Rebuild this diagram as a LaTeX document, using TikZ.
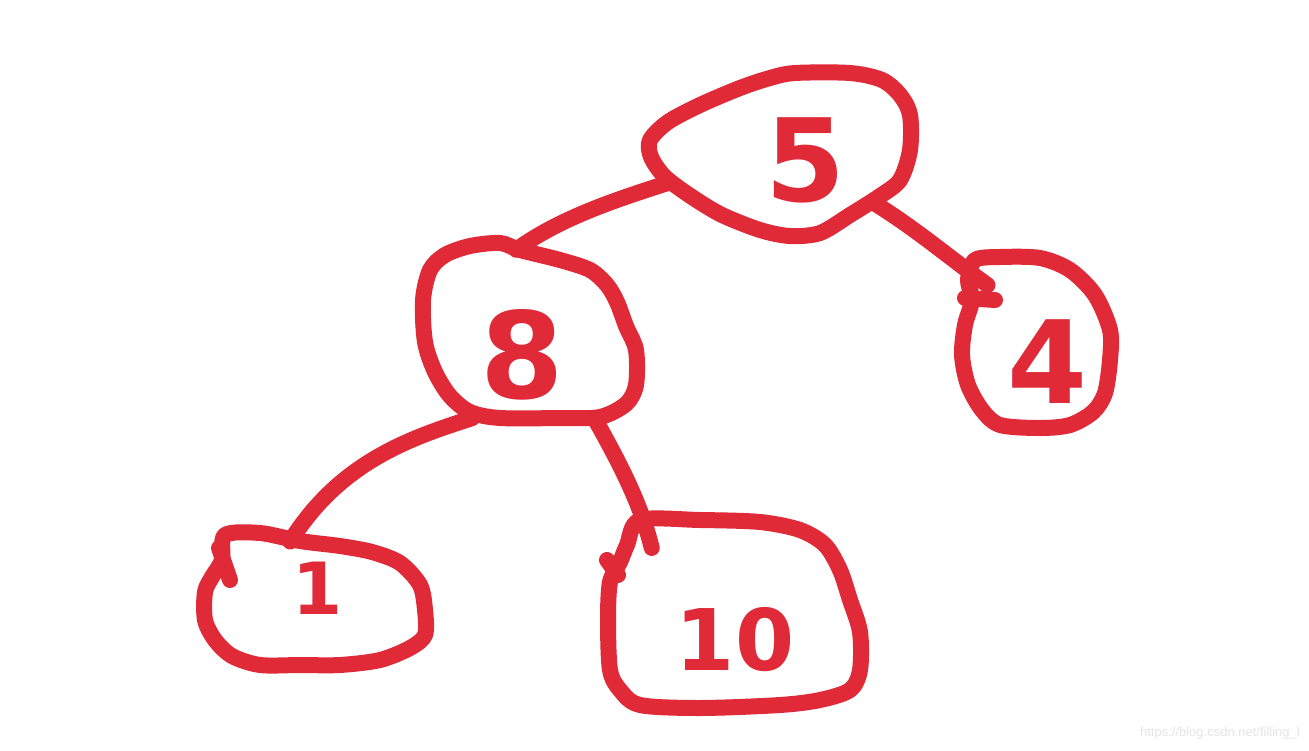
\documentclass[tikz,border=0pt]{standalone}
\usepackage{fontspec}
\usetikzlibrary{shapes.geometric}
\newfontfamily\handfont{DejaVu Sans Bold}
\newfontfamily\markfont{Liberation Sans}
\definecolor{pen}{HTML}{E02A38}
\tikzset{
  blob/.style={draw=pen, line width=16pt, line join=round, line cap=round},
  edge/.style={draw=pen, line width=16pt, line cap=round},
  holder/.style={ellipse, draw=none, inner sep=0pt},
  boxholder/.style={rectangle, draw=none, inner sep=0pt},
  digit/.style={text=pen, inner sep=0pt, font=\handfont},
}
\begin{document}
\begin{tikzpicture}[x=1pt,y=-1pt]
\useasboundingbox (0,0) rectangle (1309,750);
\fill[white] (0,0) rectangle (1309,750);
% node holders (named) for connectors
\node[holder, minimum width=240pt, minimum height=150pt] (b5) at (780,155) {};
\node[boxholder, minimum width=202pt, minimum height=168pt] (b8) at (531,334) {};
\node[holder, minimum width=140pt, minimum height=160pt] (b4) at (1037,342) {};
\node[holder, minimum width=210pt, minimum height=120pt] (b1) at (315,600) {};
\node[holder, minimum width=240pt, minimum height=180pt] (b10) at (735,613) {};
% blob outlines
\draw[blob] plot[smooth cycle, tension=0.5] coordinates {(650,140) (668,122) (700,105) (740,88) (770,78) (795,73) (850,73) (882,80) (900,95) (910,115) (910,150) (900,180) (880,196) (850,215) (820,233) (790,236) (760,230) (722,215) (692,197) (665,177) (651,157)};
\draw[blob] plot[smooth cycle, tension=0.5] coordinates {(470,246) (500,243) (520,250) (560,260) (590,270) (607,285) (617,302) (626,326) (636,350) (636,385) (626,404) (600,417) (560,418) (500,418) (470,412) (450,396) (435,372) (425,342) (423,300) (430,270) (445,255)};
\draw[blob] plot[smooth cycle, tension=0.5] coordinates {(975,260) (1000,257) (1040,258) (1070,270) (1095,295) (1110,330) (1110,360) (1105,393) (1093,412) (1070,425) (1040,428) (1000,425) (982,410) (968,385) (962,355) (965,325) (972,300) (968,280)};
\draw[blob] plot[smooth cycle, tension=0.5] coordinates {(225,535) (260,533) (300,541) (340,546) (372,552) (400,563) (420,585) (425,610) (425,635) (410,648) (380,660) (340,665) (300,665) (260,665) (232,656) (215,640) (205,620) (205,592) (212,577) (222,560)};
\draw[blob] plot[smooth cycle, tension=0.5] coordinates {(640,520) (700,520) (760,522) (800,530) (825,545) (840,570) (850,600) (860,632) (860,670) (850,690) (820,700) (780,705) (700,708) (640,705) (620,690) (610,670) (608,620) (610,582) (620,562) (627,545)};
% small pen strokes at the starts of outlines
\draw[edge] (219,548) -- (230,580);
\draw[edge] (607,560) -- (618,575);
\draw[edge] (965,298) -- (995,300);
% connectors
\draw[edge] (b5.194) .. controls (615,200) and (560,218) .. (b8.100.5);
\draw[edge] (b5.333) .. controls (915,228) and (955,262) .. (b4.131);
\draw[edge] (b8.235.5) .. controls (410,438) and (340,462) .. (b1.113);
\draw[edge] (b8.307.5) .. controls (615,455) and (640,500) .. (b10.142);
% digits
\node[digit, font=\handfont\fontsize{115}{115}\selectfont] (t5) at (805,160) {5};
\node[digit, font=\handfont\fontsize{120}{120}\selectfont] (t8) at (522,355) {8};
\node[digit, font=\handfont\fontsize{115}{115}\selectfont] (t4) at (1047,362) {4};
\node[digit, font=\handfont\fontsize{72}{72}\selectfont] (t1) at (318,588) {1};
\node[digit, font=\handfont\fontsize{85}{85}\selectfont] (t10) at (735,640) {10};
% watermark
\node[text=black!10, font=\markfont\fontsize{13}{13}\selectfont, anchor=east, inner sep=0pt] (wm) at (1300,733) {https://blog.csdn.net/filling\_l};
\end{tikzpicture}
\end{document}
